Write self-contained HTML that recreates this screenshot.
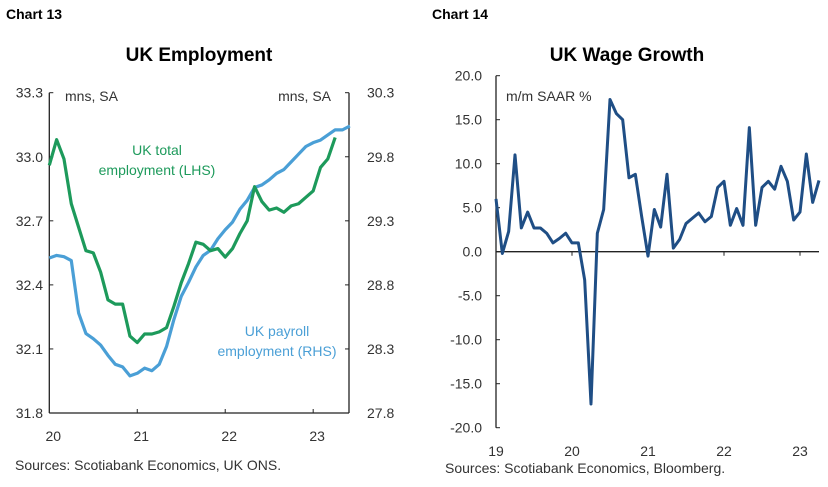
<!DOCTYPE html>
<html><head><meta charset="utf-8"><style>
body{margin:0;background:#fff;font-family:"Liberation Sans",sans-serif;}
svg text{font-family:"Liberation Sans",sans-serif;}
</style></head><body>
<svg id="c" width="828" height="482"></svg>
<script>
const empGreen=[32.96,33.08,32.99,32.78,32.67,32.56,32.55,32.46,32.33,32.31,32.31,32.16,32.13,32.17,32.17,32.18,32.20,32.30,32.41,32.50,32.60,32.59,32.56,32.57,32.53,32.57,32.64,32.70,32.86,32.79,32.75,32.76,32.74,32.77,32.78,32.81,32.84,32.95,32.99,33.09];
const payBlue=[29.01,29.03,29.02,28.99,28.58,28.42,28.38,28.33,28.25,28.18,28.16,28.09,28.11,28.15,28.13,28.18,28.32,28.53,28.71,28.82,28.94,29.03,29.07,29.16,29.23,29.29,29.39,29.46,29.56,29.58,29.62,29.67,29.70,29.76,29.82,29.88,29.91,29.93,29.97,30.01,30.01,30.04];
const leftTicks=["33.3","33.0","32.7","32.4","32.1","31.8"];
const rightTicks=["30.3","29.8","29.3","28.8","28.3","27.8"];
const yearsA=["20","21","22","23"];
const wage=[6.0,-0.2,2.3,11.0,2.7,4.5,2.7,2.7,2.1,1.0,1.5,2.1,1.0,1.0,-3.2,-17.3,2.1,4.8,17.3,15.7,15.0,8.4,8.8,4.0,-0.5,4.8,2.8,8.8,0.4,1.4,3.2,3.8,4.4,3.4,4.0,7.3,8.0,3.0,4.9,3.0,14.1,3.0,7.3,8.0,7.1,9.7,8.0,3.6,4.5,11.1,5.6,8.1];
const wageTicks=["20.0","15.0","10.0","5.0","0.0","-5.0","-10.0","-15.0","-20.0"];
const yearsB=["19","20","21","22","23"];

const svg=document.getElementById('c');const NS='http://www.w3.org/2000/svg';
function mk(t,a,txt){const e=document.createElementNS(NS,t);for(const k in a)e.setAttribute(k,a[k]);if(txt!==undefined)e.textContent=txt;svg.appendChild(e);return e;}
function T(x,y,s,o){return mk('text',Object.assign({x:x,y:y,'font-size':14,fill:'#333'},o||{}),s);}

// Chart 13
let e;
e=T(6,19,"Chart 13",{'font-weight':'bold',fill:'#000','font-size':14});

e=T(199,61,"UK Employment",{'font-weight':'bold',fill:'#000','font-size':19,'text-anchor':'middle'});

const L=49.3,R=349,TOP=92.7,BOT=413,MX=7.33;
const yL=v=>TOP+(33.3-v)/1.5*(BOT-TOP);
const yR=v=>TOP+(30.3-v)/2.5*(BOT-TOP);
const xA=i=>L+i*MX;
e=mk('line',{x1:L,y1:TOP,x2:L,y2:BOT,stroke:'#222','stroke-width':1.3});

e=mk('line',{x1:R,y1:TOP,x2:R,y2:BOT,stroke:'#222','stroke-width':1.3});

e=mk('line',{x1:L,y1:BOT,x2:R,y2:BOT,stroke:'#222','stroke-width':1.3});

leftTicks.forEach((t,i)=>{const y=yL(+t);
 mk('line',{x1:L,y1:y,x2:L+4,y2:y,stroke:'#222'});mk('line',{x1:R-4,y1:y,x2:R,y2:y,stroke:'#222'});
 e=T(43,y+5,t,{'text-anchor':'end'});
 e=T(367,y+5,rightTicks[i]);});
yearsA.forEach((t,i)=>{const x=xA(i*12);if(i>0)mk('line',{x1:x,y1:BOT-4,x2:x,y2:BOT,stroke:'#222'});
 e=T(x+4,441,t,{'text-anchor':'middle'});});
e=mk('polyline',{points:payBlue.map((v,i)=>xA(i)+','+yR(v)).join(' '),fill:'none',stroke:'#4a9fd6','stroke-width':3.2,'stroke-linejoin':'round'});

e=mk('polyline',{points:empGreen.map((v,i)=>xA(i)+','+yL(v)).join(' '),fill:'none',stroke:'#1d9a5b','stroke-width':3.2,'stroke-linejoin':'round'});

e=T(65,101,"mns, SA");
e=T(331,101,"mns, SA",{'text-anchor':'end'});
e=T(157,155,"UK total",{'text-anchor':'middle',fill:'#1d9a5b'});
T(157,175,"employment (LHS)",{'text-anchor':'middle',fill:'#1d9a5b'});
e=T(277,336,"UK payroll",{'text-anchor':'middle',fill:'#4a9fd6'});
T(277,356,"employment (RHS)",{'text-anchor':'middle',fill:'#4a9fd6'});
e=T(15,470,"Sources: Scotiabank Economics, UK ONS.");

// Chart 14
e=T(432,19,"Chart 14",{'font-weight':'bold',fill:'#000','font-size':14});

e=T(627,61,"UK Wage Growth",{'font-weight':'bold',fill:'#000','font-size':19,'text-anchor':'middle'});

const BL=496,BR=819,BT=75.7,BB=427.7,BM=76/12;
const yB=v=>BT+(20-v)/40*(BB-BT);const xB=i=>BL+i*BM;
e=mk('line',{x1:BL,y1:BT,x2:BL,y2:BB,stroke:'#222','stroke-width':1.3});

e=mk('line',{x1:BL,y1:yB(0),x2:BR,y2:yB(0),stroke:'#222','stroke-width':1.3});

wageTicks.forEach(t=>{const y=yB(+t);mk('line',{x1:BL,y1:y,x2:BL+4,y2:y,stroke:'#222'});
 e=T(482,y+5,t,{'text-anchor':'end'});});
yearsB.forEach((t,i)=>{const x=xB(i*12);if(i>0)mk('line',{x1:x,y1:yB(0),x2:x,y2:yB(0)+4,stroke:'#222'});
 e=T(x,456,t,{'text-anchor':'middle'});});
e=mk('polyline',{points:wage.map((v,i)=>xB(i)+','+yB(v)).join(' '),fill:'none',stroke:'#1f4e85','stroke-width':3,'stroke-linejoin':'round'});

e=T(506,101,"m/m SAAR %");
e=T(445,473,"Sources: Scotiabank Economics, Bloomberg.");
</script>
</body></html>
